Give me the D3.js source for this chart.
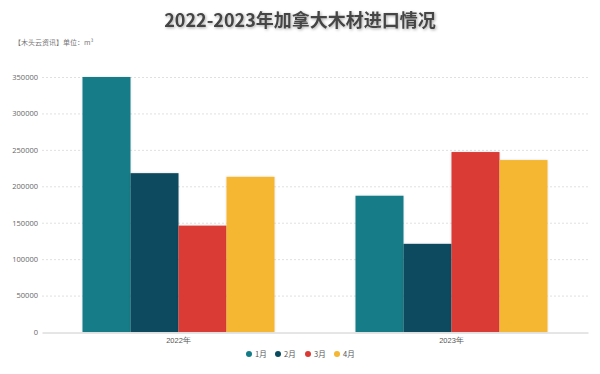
<!DOCTYPE html>
<html>
<head>
<meta charset="utf-8">
<script src="https://cdn.jsdelivr.net/npm/d3@7"></script>
<style>
  body { margin: 0; background: #fff; }
  svg { display: block; font-family: "Noto Sans CJK SC", "Noto Sans", sans-serif; }
</style>
</head>
<body>
<svg id="chart" width="600" height="374"></svg>
<script>
let years = ["2022年", "2023年"];
let months = ["1月", "2月", "3月", "4月"];
let colors = ["#137c87", "#0a4a5e", "#db3a34", "#f5b631"];
// values per month, one entry per year
let m1 = [350000, 187000];
let m2 = [218000, 121000];
let m3 = [146000, 247000];
let m4 = [213000, 236000];
let yTicks = [0, 50000, 100000, 150000, 200000, 250000, 300000, 350000];

let series = [m1, m2, m3, m4];

let svg = d3.select("#chart");
let margin = {left: 42, right: 12, top: 77, bottom: 42};
let width = 600, height = 374;

let defs = svg.append("defs");
let sh = defs.append("filter").attr("id", "shadow").attr("x", "-20%").attr("y", "-20%").attr("width", "140%").attr("height", "140%");
sh.append("feDropShadow").attr("dx", 1).attr("dy", 1).attr("stdDeviation", 1.5).attr("flood-color", "#000").attr("flood-opacity", 0.35);
let bsh = defs.append("filter").attr("id", "barShadow").attr("x", "-10%").attr("y", "-10%").attr("width", "120%").attr("height", "120%");
bsh.append("feDropShadow").attr("dx", 0).attr("dy", 0).attr("stdDeviation", 1).attr("flood-color", "#000").attr("flood-opacity", 0.15);

let x0 = d3.scaleBand().domain(years).range([margin.left, width - margin.right]).paddingInner(0).paddingOuter(0);
let x1 = d3.scaleBand().domain(months).range([40.5, x0.bandwidth() - 40.5]);
let y = d3.scaleLinear().domain([0, 350000]).range([height - margin.bottom, margin.top]);

// grid
svg.append("g").selectAll("line").data(yTicks.slice(1)).enter().append("line")
  .attr("x1", margin.left).attr("x2", width - margin.right)
  .attr("y1", d => y(d) + 0.5).attr("y2", d => y(d) + 0.5)
  .attr("stroke", "#e0e0e0").attr("stroke-dasharray", "2,2");

// y labels
let yAxis = d3.axisLeft(y).tickValues(yTicks).tickFormat(d3.format("d")).tickSize(0).tickPadding(4);
let ya = svg.append("g").attr("transform", "translate(" + margin.left + ",0)").call(yAxis);
ya.select(".domain").remove();
ya.selectAll("text").attr("fill", "#666").style("font-size", "7.5px").style("font-family", "'Open Sans', sans-serif");

// bars
let groups = svg.append("g").selectAll("g").data(years).enter().append("g")
  .attr("transform", d => "translate(" + x0(d) + ",0)");
groups.selectAll("rect").data((d, i) => months.map((m, j) => ({m: m, v: series[j][i], c: colors[j]})))
  .enter().append("rect")
  .attr("x", d => x1(d.m))
  .attr("width", x1.bandwidth())
  .attr("y", d => y(d.v))
  .attr("height", d => y(0) - y(d.v))
  .attr("fill", d => d.c)
  .attr("filter", "url(#barShadow)");

// x axis
let xAxis = d3.axisBottom(x0).tickSize(0).tickPadding(5);
let xa = svg.append("g").attr("transform", "translate(0," + (y(0) + 0.5) + ")").call(xAxis);
xa.select(".domain").attr("stroke", "#ccc");
xa.selectAll("text").attr("fill", "#555").style("font-size", "7.5px");

// title
svg.append("text").attr("x", 300).attr("y", 27).attr("text-anchor", "middle")
  .attr("fill", "#444").style("font-size", "18px").style("font-weight", "bold")
  .attr("filter", "url(#shadow)")
  .text("2022-2023年加拿大木材进口情况");
svg.append("text").attr("x", 14).attr("y", 45)
  .attr("fill", "#777").style("font-size", "7px")
  .text("【木头云资讯】单位：m³");

// legend
let legendX = [249, 278, 308, 337];
let lg = svg.append("g").selectAll("g").data(months).enter().append("g")
  .attr("transform", (d, i) => "translate(" + legendX[i] + ",354)");
lg.append("circle").attr("r", 3).attr("fill", (d, i) => colors[i]);
lg.append("text").attr("x", 6).attr("y", 3).attr("fill", "#555").style("font-size", "7.5px").text(d => d);
</script>
</body>
</html>
